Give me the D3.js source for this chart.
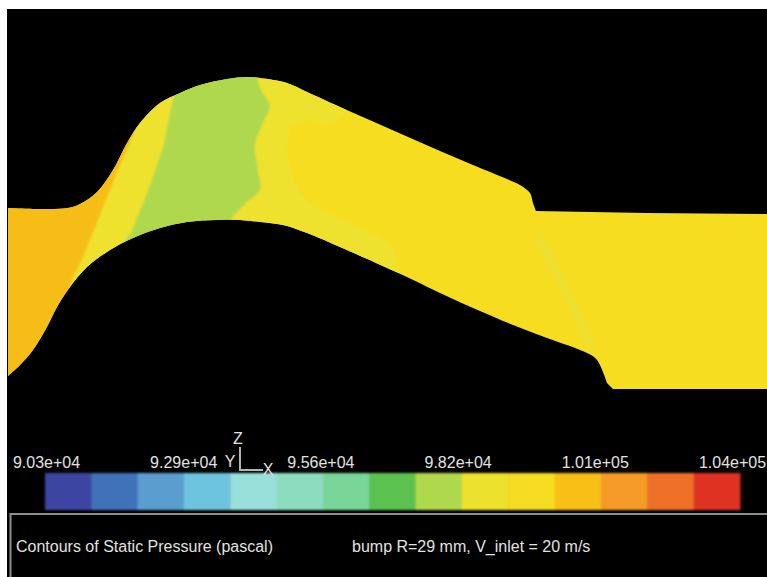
<!DOCTYPE html>
<html>
<head>
<meta charset="utf-8">
<script src="https://cdn.jsdelivr.net/npm/d3@7"></script>
<style>
  html, body { margin: 0; padding: 0; background: #fff; }
  svg { display: block; }
  text { font-family: "Liberation Sans", sans-serif; fill: #e2e2e2; }
</style>
</head>
<body>
<svg id="chart"></svg>
<script>
let w = 767;
let h = 577;

// contour outlines in image units
let inletTop = [[8,208],[40,209],[68,208],[80,204],[97,192],[113,170],[127,143],[140,123],[160,103],[180,93],[200,85],[227,79],[247,77],[260,78],[287,83],[307,92],[340,107],[373,121.5],[407,136.5],[440,151],[473,165],[507,179],[520,185],[530,193],[533,203],[536,211]];
let outletTop = [[536,211],[647,213],[767,214]];
let outletBottom = [[767,389],[613,389],[607,383]];
let bottomWall = [[607,383],[597,360],[587,353],[547,338],[513,325],[480,311],[440,293],[407,277],[340,247],[307,233],[283,225],[260,222],[240,220],[217,220],[187,222],[160,228],[133,238],[110,250],[87,267],[70,287],[57,307],[48,325],[33,350],[20,365],[8,376]];

let orangeZone = [[0,200],[138,122],[130,143],[118,170],[102,210],[83,257],[72,280],[60,320],[0,400]];
let greenZone = [[180,85],[220,60],[258,70],[258,79],[262,92],[270,105],[263,123],[255,145],[258,170],[260,190],[247,202],[232,218],[225,235],[125,245],[132,230],[147,193],[163,147]];
let paleZone = [[0,0],[345,0],[345,112],[327,125],[307,120],[292,128],[287,143],[293,177],[310,203],[350,223],[393,247],[397,267],[400,300],[0,300]];
let streakZone = [[538,232],[550,247],[587,327],[597,350],[587,347],[557,283],[535,243]];

// legend
let levelNames = d3.range(1, 16).map(d => "level" + d);
let levelColors = ["#3d44a3","#4172b9","#5b9dd0","#6cc4de","#98e0d9","#8cdcc0","#79d698","#5cc250","#b0d84e","#ece22f","#f6dd20","#f8bf18","#f59a25","#ee7025","#de3020"];
let tickLabels = ["9.03e+04","9.29e+04","9.56e+04","9.82e+04","1.01e+05","1.04e+05"];

let xScale = d3.scaleLinear().domain([0, 767]).range([0, w]);
let yScale = d3.scaleLinear().domain([0, 577]).range([0, h]);
let line = d3.line().x(d => xScale(d[0])).y(d => yScale(d[1]));
let smooth = d3.line().x(d => xScale(d[0])).y(d => yScale(d[1])).curve(d3.curveCatmullRom.alpha(0.5));
let smoothClosed = d3.line().x(d => xScale(d[0])).y(d => yScale(d[1])).curve(d3.curveCatmullRomClosed.alpha(0.5));

let chart = d3.select("#chart").attr("width", w).attr("height", h);
let defs = chart.append("defs");

let ductPath = smooth(inletTop) + "L" + line(outletTop).slice(1) + "L" + line(outletBottom).slice(1) + "L" + smooth(bottomWall).slice(1) + "Z";
defs.append("clipPath").attr("id", "duct")
  .append("path").attr("d", ductPath);
defs.append("filter").attr("id", "soft").append("feGaussianBlur").attr("stdDeviation", 0.8);
defs.append("filter").attr("id", "softer").append("feGaussianBlur").attr("stdDeviation", 2);

// black picture area, white margin top and left
chart.append("rect").attr("x", 7).attr("y", 9).attr("width", w - 7).attr("height", h - 9).attr("fill", "#000");

// contours
let duct = chart.append("g").attr("clip-path", "url(#duct)");
duct.append("rect").attr("x", 0).attr("y", 0).attr("width", w).attr("height", h).attr("fill", "#f6dd20");

let zones = duct.append("g").attr("filter", "url(#soft)");
zones.append("path").attr("d", smoothClosed(paleZone)).attr("fill", "#eee22e");
zones.append("path").attr("d", line(orangeZone) + "Z").attr("fill", "#f6bd18");
zones.append("path").attr("d", smoothClosed(greenZone)).attr("fill", "#b0d84e");
duct.append("path").attr("d", line(streakZone) + "Z").attr("fill", "#ebe033").attr("filter", "url(#softer)");

// colour bar
let barX = d3.scaleBand().domain(levelNames).range([45, 740]);
let barG = chart.append("g").attr("filter", "url(#soft)");
barG.selectAll("rect")
  .data(levelNames)
  .join("rect")
  .attr("x", d => barX(d))
  .attr("y", 473)
  .attr("width", barX.bandwidth() + 0.5)
  .attr("height", 37)
  .attr("fill", (d, i) => levelColors[i]);

// labels over the bar
let tickX = d3.scalePoint().domain(tickLabels).range([46, 732]);
let axisG = chart.append("g")
  .attr("transform", "translate(0,468)")
  .call(d3.axisTop(tickX).tickSize(0).tickPadding(0));
axisG.select(".domain").remove();
axisG.selectAll("text").attr("font-size", 16).attr("font-family", null).attr("fill", null);

// axis triad
chart.append("path")
  .attr("d", line([[240,447],[240,470],[263,470]]))
  .attr("fill", "none").attr("stroke", "#b5b5b5").attr("stroke-width", 2);
chart.append("text").attr("x", 238).attr("y", 444).attr("text-anchor", "middle").attr("font-size", 16).text("Z");
chart.append("text").attr("x", 230).attr("y", 467).attr("text-anchor", "middle").attr("font-size", 16).text("Y");
chart.append("text").attr("x", 268).attr("y", 475).attr("text-anchor", "middle").attr("font-size", 16).text("X");

// title panel
chart.append("path")
  .attr("d", line([[10.5,577],[10.5,514],[767,514]]))
  .attr("fill", "none").attr("stroke", "#8e8e8e").attr("stroke-width", 2);
chart.append("text").attr("x", 16).attr("y", 552).attr("font-size", 16).text("Contours of Static Pressure (pascal)");
chart.append("text").attr("x", 352).attr("y", 552).attr("font-size", 16).text("bump R=29 mm, V_inlet = 20 m/s");
</script>
</body>
</html>
